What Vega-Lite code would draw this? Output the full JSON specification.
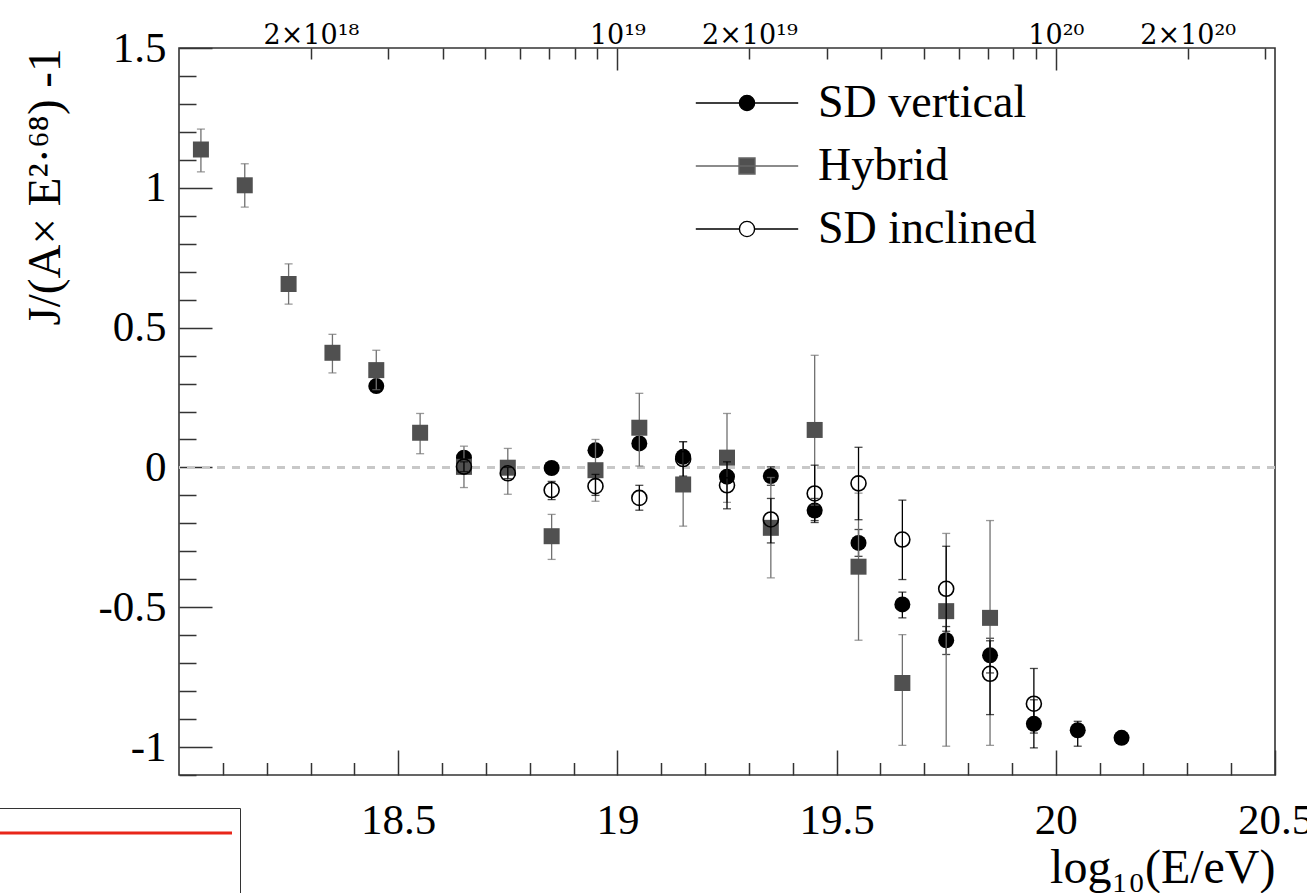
{
  "$schema": "https://vega.github.io/schema/vega-lite/v6.json",
  "width": 1096,
  "height": 727,
  "autosize": {"type": "none"},
  "padding": {"left": 179, "top": 48, "right": 32, "bottom": 118},
  "background": "white",
  "config": {
    "font": "Liberation Serif",
    "view": {"stroke": "#333", "strokeWidth": 1.6},
    "axis": {
      "domain": false,
      "grid": false,
      "tickColor": "#333",
      "tickWidth": 1.5,
      "labelFont": "Liberation Serif, DejaVu Serif",
      "labelColor": "black",
      "titleFont": "Liberation Serif, DejaVu Serif",
      "titleColor": "black",
      "titleFontWeight": "normal",
      "labelOverlap": false,
      "labelFlush": false,
      "labelBound": false
    }
  },
  "data": {
    "values": [
      {"series": "SD vertical", "x": 18.45, "y": 0.291, "lo": 0.279, "hi": 0.303},
      {"series": "SD vertical", "x": 18.65, "y": 0.035, "lo": 0.02, "hi": 0.05},
      {"series": "SD vertical", "x": 18.85, "y": -0.002, "lo": -0.016, "hi": 0.012},
      {"series": "SD vertical", "x": 18.95, "y": 0.061, "lo": 0.045, "hi": 0.077},
      {"series": "SD vertical", "x": 19.05, "y": 0.086, "lo": 0.068, "hi": 0.104},
      {"series": "SD vertical", "x": 19.15, "y": 0.038, "lo": 0.018, "hi": 0.058},
      {"series": "SD vertical", "x": 19.25, "y": -0.033, "lo": -0.055, "hi": -0.011},
      {"series": "SD vertical", "x": 19.35, "y": -0.031, "lo": -0.064, "hi": 0.002},
      {"series": "SD vertical", "x": 19.45, "y": -0.154, "lo": -0.197, "hi": -0.111},
      {"series": "SD vertical", "x": 19.55, "y": -0.27, "lo": -0.318, "hi": -0.222},
      {"series": "SD vertical", "x": 19.65, "y": -0.49, "lo": -0.538, "hi": -0.446},
      {"series": "SD vertical", "x": 19.75, "y": -0.618, "lo": -0.669, "hi": -0.569},
      {"series": "SD vertical", "x": 19.85, "y": -0.672, "lo": -0.735, "hi": -0.611},
      {"series": "SD vertical", "x": 19.95, "y": -0.917, "lo": -1.003, "hi": -0.831},
      {"series": "SD vertical", "x": 20.05, "y": -0.94, "lo": -0.997, "hi": -0.908},
      {"series": "SD vertical", "x": 20.15, "y": -0.967, "lo": -0.985, "hi": -0.95},
      {"series": "Hybrid", "x": 18.05, "y": 1.137, "lo": 1.057, "hi": 1.21},
      {"series": "Hybrid", "x": 18.15, "y": 1.009, "lo": 0.931, "hi": 1.086},
      {"series": "Hybrid", "x": 18.25, "y": 0.656, "lo": 0.584, "hi": 0.728},
      {"series": "Hybrid", "x": 18.35, "y": 0.41, "lo": 0.338, "hi": 0.476},
      {"series": "Hybrid", "x": 18.45, "y": 0.348, "lo": 0.278, "hi": 0.419},
      {"series": "Hybrid", "x": 18.55, "y": 0.124, "lo": 0.049, "hi": 0.193},
      {"series": "Hybrid", "x": 18.65, "y": 0.002, "lo": -0.072, "hi": 0.076},
      {"series": "Hybrid", "x": 18.75, "y": -0.001, "lo": -0.096, "hi": 0.068},
      {"series": "Hybrid", "x": 18.85, "y": -0.246, "lo": -0.329, "hi": -0.168},
      {"series": "Hybrid", "x": 18.95, "y": -0.01, "lo": -0.121, "hi": 0.1},
      {"series": "Hybrid", "x": 19.05, "y": 0.142, "lo": 0.005, "hi": 0.265},
      {"series": "Hybrid", "x": 19.15, "y": -0.061, "lo": -0.21, "hi": 0.092},
      {"series": "Hybrid", "x": 19.25, "y": 0.035, "lo": -0.125, "hi": 0.193},
      {"series": "Hybrid", "x": 19.35, "y": -0.216, "lo": -0.395, "hi": -0.036},
      {"series": "Hybrid", "x": 19.45, "y": 0.134, "lo": -0.135, "hi": 0.401},
      {"series": "Hybrid", "x": 19.55, "y": -0.355, "lo": -0.618, "hi": -0.092},
      {"series": "Hybrid", "x": 19.65, "y": -0.771, "lo": -0.994, "hi": -0.598},
      {"series": "Hybrid", "x": 19.75, "y": -0.514, "lo": -0.997, "hi": -0.236},
      {"series": "Hybrid", "x": 19.85, "y": -0.538, "lo": -0.994, "hi": -0.19},
      {"series": "SD inclined", "x": 18.65, "y": 0.003, "lo": -0.015, "hi": 0.02},
      {"series": "SD inclined", "x": 18.75, "y": -0.021, "lo": -0.04, "hi": 0.0},
      {"series": "SD inclined", "x": 18.85, "y": -0.081, "lo": -0.115, "hi": -0.05},
      {"series": "SD inclined", "x": 18.95, "y": -0.067, "lo": -0.1, "hi": -0.025},
      {"series": "SD inclined", "x": 19.05, "y": -0.109, "lo": -0.153, "hi": -0.064},
      {"series": "SD inclined", "x": 19.15, "y": 0.03, "lo": -0.031, "hi": 0.092},
      {"series": "SD inclined", "x": 19.25, "y": -0.064, "lo": -0.148, "hi": 0.02},
      {"series": "SD inclined", "x": 19.35, "y": -0.186, "lo": -0.27, "hi": -0.111},
      {"series": "SD inclined", "x": 19.45, "y": -0.093, "lo": -0.19, "hi": 0.008},
      {"series": "SD inclined", "x": 19.55, "y": -0.057, "lo": -0.187, "hi": 0.072},
      {"series": "SD inclined", "x": 19.65, "y": -0.258, "lo": -0.401, "hi": -0.117},
      {"series": "SD inclined", "x": 19.75, "y": -0.434, "lo": -0.586, "hi": -0.282},
      {"series": "SD inclined", "x": 19.85, "y": -0.738, "lo": -0.884, "hi": -0.62},
      {"series": "SD inclined", "x": 19.95, "y": -0.845, "lo": -0.95, "hi": -0.719}
    ]
  },
  "layer": [
    {
      "mark": {"type": "rule", "color": "#c8c8c8", "strokeWidth": 1.5, "strokeDash": [8, 7]},
      "encoding": {
        "y": {"datum": 0, "type": "quantitative", "scale": {"domain": [-1.1, 1.5], "nice": false, "zero": false}, "axis": null}
      }
    },
    {
      "transform": [{"filter": "datum.series === 'SD vertical'"}],
      "mark": {"type": "rule", "color": "black", "strokeWidth": 1.3},
      "encoding": {
        "x": {"field": "x", "type": "quantitative", "scale": {"domain": [18, 20.5], "nice": false, "zero": false},
          "axis": {"orient": "bottom", "values": [18.5, 19, 19.5, 20, 20.5], "tickSize": -25, "labelFontSize": 43, "labelPadding": 49, "labelExpr": "toString(datum.value)",
            "title": "log₁₀(E/eV)", "titleFontSize": 48, "titleAnchor": "end", "titlePadding": 2}},
        "y": {"field": "lo", "type": "quantitative", "scale": {"domain": [-1.1, 1.5], "nice": false, "zero": false},
          "axis": {"orient": "left", "values": [-1, -0.5, 0, 0.5, 1, 1.5], "tickSize": -33, "labelFontSize": 43, "labelPadding": 46, "labelExpr": "toString(datum.value)",
            "title": "J/(A× E²·⁶⁸) -1", "titleFontSize": 47, "titleAnchor": "end", "titlePadding": 28}},
        "y2": {"field": "hi"}
      }
    },
    {
      "transform": [{"filter": "datum.series === 'SD vertical'"}, {"fold": ["lo", "hi"], "as": ["k", "v"]}],
      "mark": {"type": "tick", "orient": "horizontal", "size": 8, "thickness": 1.3, "color": "black"},
      "encoding": {
        "x": {"field": "x", "type": "quantitative", "scale": {"domain": [18, 20.5], "nice": false, "zero": false},
          "axis": {"orient": "bottom", "values": [18.1, 18.2, 18.3, 18.4, 18.6, 18.7, 18.8, 18.9, 19.1, 19.2, 19.3, 19.4, 19.6, 19.7, 19.8, 19.9, 20.1, 20.2, 20.3, 20.4], "tickSize": -12.5, "labels": false, "title": null}},
        "y": {"field": "v", "type": "quantitative", "scale": {"domain": [-1.1, 1.5], "nice": false, "zero": false},
          "axis": {"orient": "left", "values": [-1.1, -0.9, -0.8, -0.7, -0.6, -0.4, -0.3, -0.2, -0.1, 0.1, 0.2, 0.3, 0.4, 0.6, 0.7, 0.8, 0.9, 1.1, 1.2, 1.3, 1.4], "tickSize": -17, "labels": false, "title": null}}
      }
    },
    {
      "transform": [{"filter": "datum.series === 'SD vertical'"}],
      "mark": {"type": "point", "shape": "circle", "filled": true, "color": "black", "size": 256, "opacity": 1},
      "encoding": {
        "x": {"field": "x", "type": "quantitative", "scale": {"domain": [18, 20.5], "nice": false, "zero": false},
          "axis": {"orient": "top", "values": [19, 20], "tickSize": -22, "labelFont": "DejaVu Serif", "labelFontSize": 27, "labelPadding": 21, "labelExpr": "datum.value == 19 ? '10¹⁹' : '10²⁰'", "title": null}},
        "y": {"field": "y", "type": "quantitative", "scale": {"domain": [-1.1, 1.5], "nice": false, "zero": false}, "axis": null}
      }
    },
    {
      "transform": [{"filter": "datum.series === 'Hybrid'"}],
      "mark": {"type": "rule", "color": "#707070", "strokeWidth": 1.3},
      "encoding": {
        "x": {"field": "x", "type": "quantitative", "scale": {"domain": [18, 20.5], "nice": false, "zero": false},
          "axis": {"orient": "top", "values": [18.30103, 18.47712, 18.60206, 18.69897, 18.77815, 18.8451, 18.90309, 18.95424, 19.30103, 19.47712, 19.60206, 19.69897, 19.77815, 19.8451, 19.90309, 19.95424, 20.30103, 20.47712], "tickSize": -11, "labelFont": "DejaVu Serif", "labelFontSize": 27, "labelPadding": 10,
            "labelExpr": "abs(datum.value - 18.30103) < 0.001 ? '2×10¹⁸' : abs(datum.value - 19.30103) < 0.001 ? '2×10¹⁹' : abs(datum.value - 20.30103) < 0.001 ? '2×10²⁰' : ''", "title": null}},
        "y": {"field": "lo", "type": "quantitative", "scale": {"domain": [-1.1, 1.5], "nice": false, "zero": false}, "axis": null},
        "y2": {"field": "hi"}
      }
    },
    {
      "transform": [{"filter": "datum.series === 'Hybrid'"}, {"fold": ["lo", "hi"], "as": ["k", "v"]}],
      "mark": {"type": "tick", "orient": "horizontal", "size": 8, "thickness": 1.3, "color": "#707070"},
      "encoding": {
        "x": {"field": "x", "type": "quantitative", "scale": {"domain": [18, 20.5], "nice": false, "zero": false}, "axis": null},
        "y": {"field": "v", "type": "quantitative", "scale": {"domain": [-1.1, 1.5], "nice": false, "zero": false}, "axis": null}
      }
    },
    {
      "transform": [{"filter": "datum.series === 'Hybrid'"}],
      "mark": {"type": "point", "shape": "square", "filled": true, "color": "#505050", "size": 256, "opacity": 1},
      "encoding": {
        "x": {"field": "x", "type": "quantitative", "scale": {"domain": [18, 20.5], "nice": false, "zero": false}, "axis": null},
        "y": {"field": "y", "type": "quantitative", "scale": {"domain": [-1.1, 1.5], "nice": false, "zero": false}, "axis": null}
      }
    },
    {
      "transform": [{"filter": "datum.series === 'SD inclined'"}],
      "mark": {"type": "rule", "color": "black", "strokeWidth": 1.3},
      "encoding": {
        "x": {"field": "x", "type": "quantitative", "scale": {"domain": [18, 20.5], "nice": false, "zero": false}, "axis": null},
        "y": {"field": "lo", "type": "quantitative", "scale": {"domain": [-1.1, 1.5], "nice": false, "zero": false}, "axis": null},
        "y2": {"field": "hi"}
      }
    },
    {
      "transform": [{"filter": "datum.series === 'SD inclined'"}, {"fold": ["lo", "hi"], "as": ["k", "v"]}],
      "mark": {"type": "tick", "orient": "horizontal", "size": 8, "thickness": 1.3, "color": "black"},
      "encoding": {
        "x": {"field": "x", "type": "quantitative", "scale": {"domain": [18, 20.5], "nice": false, "zero": false}, "axis": null},
        "y": {"field": "v", "type": "quantitative", "scale": {"domain": [-1.1, 1.5], "nice": false, "zero": false}, "axis": null}
      }
    },
    {
      "transform": [{"filter": "datum.series === 'SD inclined'"}],
      "mark": {"type": "point", "shape": "circle", "filled": false, "color": "black", "strokeWidth": 1.6, "size": 225, "opacity": 1},
      "encoding": {
        "x": {"field": "x", "type": "quantitative", "scale": {"domain": [18, 20.5], "nice": false, "zero": false}, "axis": null},
        "y": {"field": "y", "type": "quantitative", "scale": {"domain": [-1.1, 1.5], "nice": false, "zero": false}, "axis": null}
      }
    },
    {
      "mark": {"type": "point", "filled": true, "size": 256, "opacity": 0},
      "encoding": {
        "x": {"field": "x", "type": "quantitative", "scale": {"domain": [18, 20.5], "nice": false, "zero": false}, "axis": null},
        "y": {"field": "y", "type": "quantitative", "scale": {"domain": [-1.1, 1.5], "nice": false, "zero": false}, "axis": null},
        "shape": {"field": "series", "type": "nominal",
          "scale": {"domain": ["SD vertical", "Hybrid", "SD inclined"],
            "range": ["M-6.4,0H6.4M-0.95,0A0.95,0.95,0,1,0,0.95,0A0.95,0.95,0,1,0,-0.95,0Z", "M-6.4,0H6.4M-1,-1H1V1H-1Z", "M-6.4,0H-0.95M0.95,0H6.4M-0.95,0A0.95,0.95,0,1,0,0.95,0A0.95,0.95,0,1,0,-0.95,0Z"]},
          "legend": {"title": null, "orient": "none", "legendX": 545, "legendY": 32, "labelFontSize": 46, "labelFont": "Liberation Serif", "labelColor": "black", "labelOffset": 48, "labelLimit": 600, "symbolSize": 256, "symbolStrokeWidth": 1.4, "symbolOpacity": 1, "rowPadding": 17, "padding": 0}},
        "fill": {"field": "series", "type": "nominal",
          "scale": {"domain": ["SD vertical", "Hybrid", "SD inclined"], "range": ["black", "#505050", "transparent"]},
          "legend": {"title": null, "orient": "none", "legendX": 545, "legendY": 32, "labelFontSize": 46, "labelFont": "Liberation Serif", "labelColor": "black", "labelOffset": 48, "labelLimit": 600, "symbolSize": 256, "symbolStrokeWidth": 1.4, "symbolOpacity": 1, "rowPadding": 17, "padding": 0}},
        "stroke": {"field": "series", "type": "nominal",
          "scale": {"domain": ["SD vertical", "Hybrid", "SD inclined"], "range": ["black", "#666666", "black"]},
          "legend": {"title": null, "orient": "none", "legendX": 545, "legendY": 32, "labelFontSize": 46, "labelFont": "Liberation Serif", "labelColor": "black", "labelOffset": 48, "labelLimit": 600, "symbolSize": 256, "symbolStrokeWidth": 1.4, "symbolOpacity": 1, "rowPadding": 17, "padding": 0}}
      }
    },
    {
      "transform": [{"filter": "datum.series === 'SD vertical'"}],
      "mark": {"type": "point", "filled": false, "size": 64, "opacity": 0},
      "encoding": {
        "x": {"field": "x", "type": "quantitative", "scale": {"domain": [18, 20.5], "nice": false, "zero": false}, "axis": null},
        "y": {"field": "y", "type": "quantitative", "scale": {"domain": [-1.1, 1.5], "nice": false, "zero": false}, "axis": null},
        "color": {"datum": "box", "type": "nominal", "scale": {"range": ["#e8261a"]},
          "legend": {"title": null, "orient": "none", "legendX": -246, "legendY": 760, "symbolType": "M-1,-10H58.5", "symbolSize": 64, "symbolStrokeWidth": 3, "symbolOpacity": 1, "symbolStrokeColor": "#e8261a", "labelExpr": "' '", "labelFontSize": 126, "labelOffset": 0, "padding": 2, "strokeColor": "#333", "fillColor": "white"}}
      }
    }
  ],
  "resolve": {"axis": {"x": "independent", "y": "independent"}}
}
